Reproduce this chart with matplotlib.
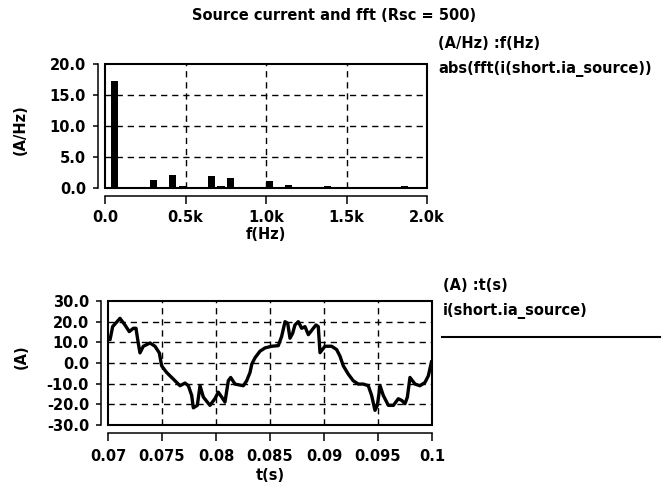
import matplotlib
matplotlib.use("Agg")
import matplotlib.pyplot as plt
from matplotlib.patches import Rectangle

plt.rcParams['font.family'] = 'DejaVu Sans'
plt.rcParams['font.weight'] = 'bold'
plt.rcParams['axes.labelweight'] = 'bold'
plt.rcParams['font.size'] = 10.5

# spectrum of the source current (harmonics of 60 Hz)
freq_hz = [60, 300, 420, 480, 660, 720, 780, 1020, 1140, 1380, 1500, 1740, 1860]
mag_a_hz = [17.3, 1.25, 2.1, 0.3, 1.9, 0.3, 1.6, 1.2, 0.55, 0.3, 0.15, 0.1, 0.3]
f_ticks = [0, 500, 1000, 1500, 2000]
f_labels = ['0.0', '0.5k', '1.0k', '1.5k', '2.0k']
a_hz_ticks = [0, 5, 10, 15, 20]

# source current in time domain
t_s = [0.0700, 0.07019, 0.07043, 0.07111, 0.07157, 0.07197, 0.07235, 0.07259,
       0.07280, 0.07296, 0.07327, 0.07389, 0.07435, 0.07475, 0.07497, 0.07543,
       0.07605, 0.07667, 0.07713, 0.07744, 0.07775, 0.07790, 0.07827, 0.07852,
       0.07883, 0.07944, 0.07991, 0.08021, 0.08053, 0.08083, 0.08114, 0.08136,
       0.08176, 0.08253, 0.08284, 0.08315, 0.08331, 0.08361, 0.08407, 0.08454,
       0.08515, 0.08577, 0.08608, 0.08639, 0.08664, 0.08685, 0.08710, 0.08731,
       0.08762, 0.08793, 0.08824, 0.08855, 0.08901, 0.08926, 0.08947, 0.08963,
       0.09009, 0.09071, 0.09117, 0.09148, 0.09179, 0.09225, 0.09271, 0.09318,
       0.09364, 0.09410, 0.09441, 0.09472, 0.09494, 0.09519, 0.09549, 0.09596,
       0.09642, 0.09688, 0.09720, 0.09750, 0.09772, 0.09796, 0.09843, 0.09889,
       0.09935, 0.09966, 0.09995]
i_a = [12.0, 11.3, 17.6, 21.6, 18.4, 15.2, 16.8, 16.8,
       9.7, 4.9, 8.1, 9.7, 8.1, 4.9, -1.4, -4.6,
       -7.8, -11.0, -9.7, -11.0, -15.7, -21.7, -20.5, -11.0,
       -16.5, -20.5, -17.2, -14.1, -16.5, -18.9, -8.6, -7.0,
       -10.2, -11.0, -8.6, -4.6, -0.6, 2.5, 5.7, 7.3,
       8.1, 8.4, 12.9, 20.0, 19.2, 12.0, 14.4, 18.4,
       20.0, 16.8, 17.6, 13.7, 16.8, 18.4, 17.6, 5.0,
       8.1, 8.1, 6.5, 3.3, -1.4, -5.4, -8.6, -10.2,
       -10.2, -11.0, -15.7, -22.9, -20.5, -11.0, -15.7, -20.5,
       -20.5, -17.3, -18.1, -19.7, -16.5, -7.0, -10.2, -11.0,
       -9.4, -6.2, 0.5]
t_ticks = [0.07, 0.075, 0.08, 0.085, 0.09, 0.095, 0.1]
t_labels = ['0.07', '0.075', '0.08', '0.085', '0.09', '0.095', '0.1']
a_ticks = [-30, -20, -10, 0, 10, 20, 30]

W, H = 662, 487
fig = plt.figure(figsize=(W / 100, H / 100), dpi=100)

def axes_px(l, t, r, b):
    return fig.add_axes([l / W, 1 - b / H, (r - l) / W, (b - t) / H])

def style(ax, xgrid, ygrid, xpad):
    for s in ('top', 'right'):
        ax.spines[s].set_visible(False)
    ax.spines['left'].set_position(('outward', 5))
    ax.spines['bottom'].set_position(('outward', 6))
    ax.spines['left'].set_linewidth(1.1)
    ax.spines['bottom'].set_linewidth(1.1)
    ax.tick_params(axis='y', length=3.6, width=1.1, pad=5)
    ax.tick_params(axis='x', length=6, width=1.1, pad=xpad)
    ax.add_patch(Rectangle((0, 0), 1, 1, transform=ax.transAxes, fill=False,
                           lw=1.5, ec='black', clip_on=False, zorder=5))
    for x in xgrid:
        ax.axvline(x, color='black', lw=1.0, ls=(0, (4.5, 3.5)), zorder=1)
    for y in ygrid:
        ax.axhline(y, color='black', lw=1.0, ls=(0, (4.5, 3.5)), zorder=1)

# fft plot
ax1 = axes_px(105, 64, 427, 188)
ax1.bar(freq_hz, mag_a_hz, width=45, color='black', zorder=3)
ax1.set_xlim(0, 2000)
ax1.set_ylim(0, 20)
ax1.set_xticks(f_ticks, f_labels)
ax1.set_yticks(a_hz_ticks, ['%.1f' % v for v in a_hz_ticks])
style(ax1, f_ticks[1:-1], a_hz_ticks[1:-1], 3.5)
ax1.set_xlabel('f(Hz)', labelpad=2)
ax1.set_ylabel('(A/Hz)')
ax1.yaxis.set_label_coords(-0.24, 0.47)

# time plot
ax2 = axes_px(108, 301, 432, 425)
ax2.plot(t_s, i_a, color='black', lw=2.4, zorder=3)
ax2.set_xlim(0.07, 0.1)
ax2.set_ylim(-30, 30)
ax2.set_xticks(t_ticks, t_labels)
ax2.set_yticks(a_ticks, ['%.1f' % v for v in a_ticks])
style(ax2, t_ticks[1:-1], a_ticks[1:-1], 5)
ax2.set_xlabel('t(s)', labelpad=3)
ax2.set_ylabel('(A)')
ax2.yaxis.set_label_coords(-0.245, 0.55)

fig.text(334 / W, 1 - 16 / H, 'Source current and fft (Rsc = 500)',
         ha='center', va='center')
fig.text(438 / W, 1 - 43 / H, '(A/Hz) :f(Hz)', ha='left', va='center')
fig.text(438 / W, 1 - 69 / H, 'abs(fft(i(short.ia_source))', ha='left', va='center')
fig.text(443 / W, 1 - 286 / H, '(A) :t(s)', ha='left', va='center')
fig.text(443 / W, 1 - 311 / H, 'i(short.ia_source)', ha='left', va='center')
fig.add_artist(plt.Line2D([442 / W, 660 / W], [1 - 337 / H, 1 - 337 / H],
                          color='black', lw=1.5, transform=fig.transFigure))

fig.savefig('out.png', dpi=100, facecolor='white')
